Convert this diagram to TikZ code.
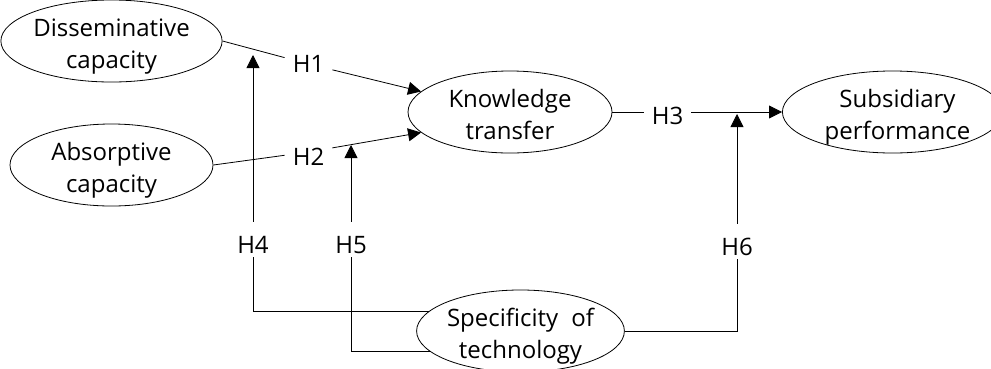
\documentclass[tikz,border=0pt]{standalone}
\usepackage{fontspec}
\setmainfont{Open Sans}
\usetikzlibrary{arrows.meta,shapes.geometric}
\begin{document}
\begin{tikzpicture}[x=1pt,y=-1pt,
  font=\fontsize{24}{32}\selectfont,
  var/.style={draw, ellipse, inner sep=0pt, align=center, line width=0.8pt, text height=56pt, text depth=2pt},
  hyp/.style={inner xsep=8pt, inner ysep=3pt},
  vhyp/.style={anchor=base, inner sep=0pt, text height=31pt, text depth=4pt},
  link/.style={line width=0.8pt},
  arr/.style={link, -{Triangle[length=13pt,width=13pt]}}
]
\useasboundingbox (0,0) rectangle (991,368);
% constructs
\node[var, minimum width=203pt, minimum height=72pt] (dis) at (111.5,41) {Disseminative\\capacity};
\node[var, minimum width=203pt, minimum height=64pt] (abs) at (111.5,165) {Absorptive\\capacity};
\node[var, minimum width=204pt, minimum height=73pt] (kt) at (510,112) {Knowledge\\transfer};
\node[var, minimum width=195pt, minimum height=73pt] (sub) at (892.5,112) {\hspace*{10pt}Subsidiary\\\hspace*{10pt}performance};
\node[var, minimum width=205pt, minimum height=72pt] (spec) at (520.5,331) {Specificity\hspace{0.55em}of\\technology};
% hypothesis labels
\node[hyp] (h1) at (308.5,64) {H1\hspace{10pt}};
\node[hyp, text height=27pt, text depth=0pt] (h2) at (308.5,152) {H2\hspace{10pt}};
\node[hyp, text height=25pt, text depth=0pt] (h3) at (667.5,112) {H3\hspace{10pt}};
\node[vhyp] (h4) at (253,253) {H4\hspace{7pt}};
\node[vhyp] (h5) at (351,253) {H5\hspace{7pt}};
\node[vhyp] (h6) at (737,255) {H6\hspace{14pt}};
% moderation targets
\coordinate (m1) at (253,55);
\coordinate (m2) at (351,145);
\coordinate (m3) at (737,114);
% direct paths
\draw[link] (dis.east) -- (h1);
\draw[arr] (h1) -- (kt.167);
\draw[link] (abs.east) -- (h2);
\draw[arr] (h2) -- (kt.193);
\draw[link] (kt.east) -- (h3);
\draw[arr] (h3) -- (sub.west);
% moderating paths
\draw[link] (spec.168) -| (h4.south);
\draw[arr] (h4.north) -- (m1);
\draw[link] (spec.193) -| (h5.south);
\draw[arr] (h5.north) -- (m2);
\draw[link] (spec.east) -| (h6.south);
\draw[arr] (h6.north) -- (m3);
\end{tikzpicture}
\end{document}
